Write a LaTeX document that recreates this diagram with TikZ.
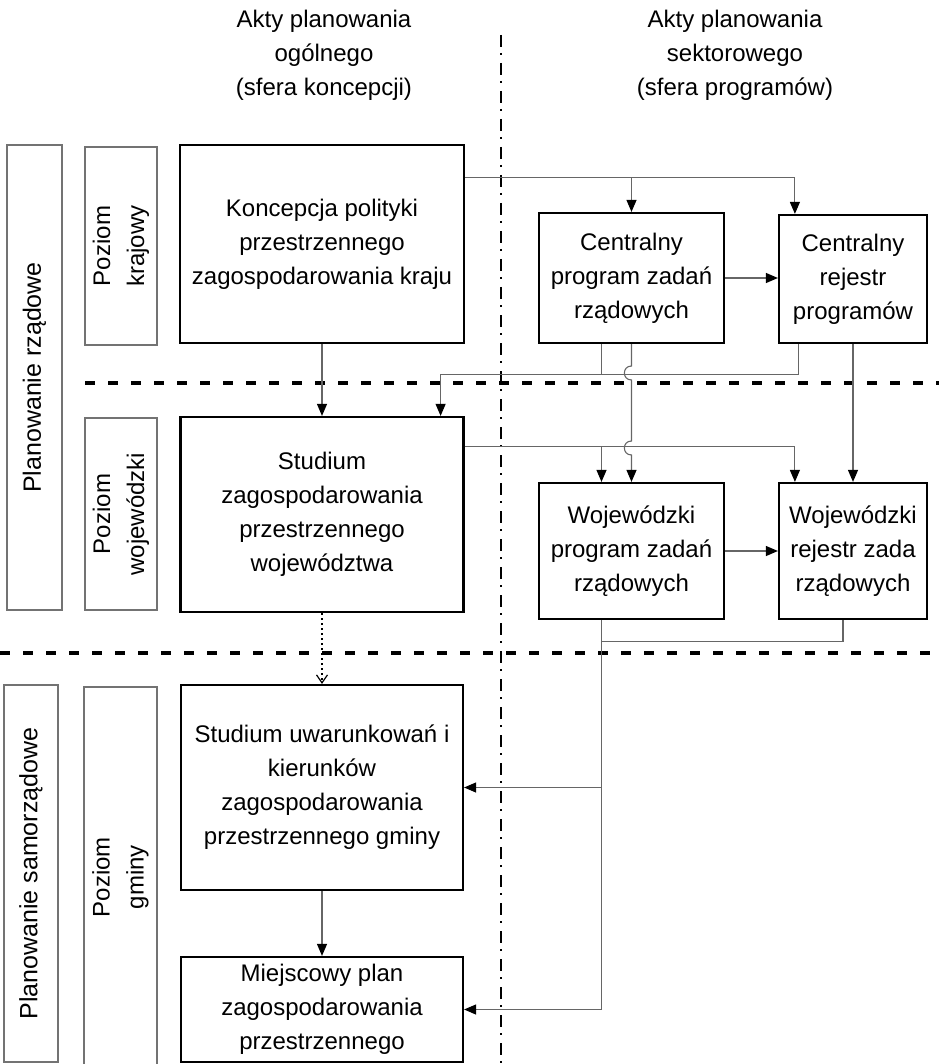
\documentclass[tikz,border=0pt]{standalone}
\usepackage{fontspec}
\setmainfont{Liberation Sans}
\usetikzlibrary{arrows.meta}

\tikzset{
  mainbox/.style={draw,line width=2.2pt,inner sep=0pt,align=center},
  sidebox/.style={draw=black!55,line width=1.1pt,inner sep=0pt,align=center,rotate=90},
  head/.style={align=center},
  link/.style={draw=black!60,line width=1.1pt},
  tip/.style={-{Triangle[length=12pt,width=10pt,color=black]}},
  levelsep/.style={line width=3.5pt,dash pattern=on 10pt off 13pt},
  colsep/.style={line width=1.8pt,dash pattern=on 12pt off 6pt on 2pt off 8pt}
}

\begin{document}
\begin{tikzpicture}[x=1pt,y=-1pt,font=\fontsize{24}{34}\selectfont]
    \useasboundingbox (0,0) rectangle (939,1064);

    \draw[levelsep] (85,383) -- (939,383);
    \draw[levelsep] (0,653) -- (939,653);
    \draw[colsep] (501,35) -- (501,1064);

    \node[head] (hgen) at (324,55) {Akty planowania\\ogólnego\\(sfera koncepcji)};
    \node[head] (hsek) at (735,55) {Akty planowania\\sektorowego\\(sfera programów)};

    \node[sidebox,minimum width=465pt,minimum height=55pt,font=\fontsize{25}{34}\selectfont] (prz) at (34.5,377.5) {Planowanie rządowe};
    \node[sidebox,minimum width=198pt,minimum height=72pt] (pkr) at (121,246) {Poziom\\krajowy};
    \node[sidebox,minimum width=192pt,minimum height=72pt] (pwoj) at (121,514) {Poziom\\wojewódzki};
    \node[sidebox,minimum width=377pt,minimum height=54pt,font=\fontsize{25}{34}\selectfont] (psam) at (31,873.5) {Planowanie samorządowe};
    \node[sidebox,minimum width=380pt,minimum height=73pt] (pgm) at (120.5,877) {Poziom\\gminy};

    \node[mainbox,minimum width=284pt,minimum height=198pt] (kon) at (322,244) {Koncepcja polityki\\przestrzennego\\zagospodarowania kraju};
    \node[mainbox,minimum width=283pt,minimum height=195pt] (swoj) at (322,514.5) {Studium\\zagospodarowania\\przestrzennego\\województwa};
    \node[mainbox,minimum width=282pt,minimum height=205pt] (sgm) at (322,787.5) {Studium uwarunkowań i\\kierunków\\zagospodarowania\\przestrzennego gminy};
    \node[mainbox,minimum width=282pt,minimum height=105pt] (mpl) at (322,1009.5) {Miejscowy plan\\zagospodarowania\\przestrzennego};
    \node[mainbox,minimum width=185pt,minimum height=130pt] (cprog) at (631.5,278) {Centralny\\program zadań\\rządowych};
    \node[mainbox,minimum width=148pt,minimum height=128pt] (crej) at (853,279) {Centralny\\rejestr\\programów};
    \node[mainbox,minimum width=185pt,minimum height=136pt] (wprog) at (631.5,551) {Wojewódzki\\program zadań\\rządowych};
    \node[mainbox,minimum width=148pt,minimum height=136pt] (wrej) at (853,551) {Wojewódzki\\rejestr zada\\rządowych};

    \coordinate (ktop) at ([yshift=-34pt]kon.north east);
    \draw[link,tip] (ktop) -| ([xshift=17pt]crej.north west);
    \draw[link,tip] (ktop -| cprog.north) -- (cprog.north);
    \draw[link,tip] (cprog.east) -- (cprog.east -| crej.west);
    \draw[link,tip] (kon.south) -- (swoj.north);
    \draw[link,tip] ([xshift=21pt]crej.south west) -- ++(0,30) -| ([xshift=-24pt]swoj.north east);
    \draw[link] ([xshift=-30pt]cprog.south) -- ++(0,30);
    \draw[link,tip] (cprog.south) -- (631.5,366) .. controls (622,366) and (622,380) .. (631.5,380)
        -- (631.5,441) .. controls (622,441) and (622,455) .. (631.5,455) -- (wprog.north);
    \draw[link,tip] (crej.south) -- (wrej.north);

    \coordinate (wtop) at ([yshift=-31pt]swoj.north east);
    \coordinate (wpin) at ([xshift=-30pt]wprog.north);
    \draw[link,tip] (wtop) -| ([xshift=17pt]wrej.north west);
    \draw[link,tip] (wtop -| wpin) -- (wpin);
    \draw[link,tip] (wprog.east) -- (wprog.east -| wrej.west);

    \coordinate (wout) at ([xshift=-30pt]wprog.south);
    \draw[link] ([xshift=-10pt]wrej.south) -- ++(0,21) -| (wout);
    \draw[link,tip] (wout) |- (mpl.east);
    \draw[link,tip] (wout |- sgm.east) -- (sgm.east);

    \draw[line width=1.2pt,dash pattern=on 2pt off 3pt,-{Straight Barb[length=8pt,width=11pt]}] (swoj.south) -- (sgm.north);
    \draw[link,tip] (sgm.south) -- (mpl.north);
\end{tikzpicture}
\end{document}
